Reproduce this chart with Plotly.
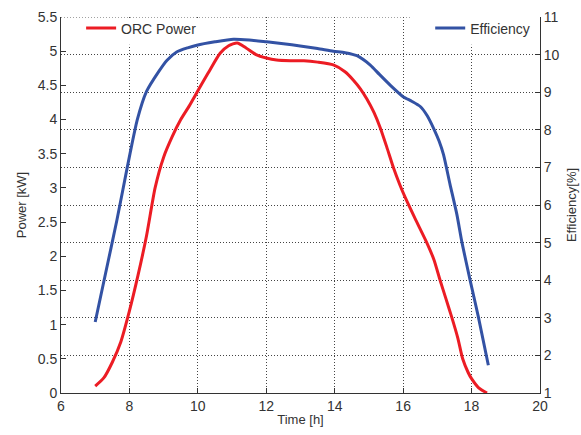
import plotly.graph_objects as go

# ORC power output over the day (left axis, kW)
time_orc = [7.0, 7.25, 7.5, 7.75, 8.0, 8.25, 8.5, 8.75, 9.0, 9.25, 9.5, 9.75,
            10.0, 10.3, 10.65, 10.9, 11.15, 11.4, 11.7, 12.0, 12.3, 12.7, 13.1,
            13.5, 13.96, 14.3, 14.54, 14.75, 14.94, 15.15, 15.33, 15.52, 15.72,
            15.9, 16.06, 16.35, 16.69, 16.9, 17.08, 17.25, 17.42, 17.6, 17.74,
            17.9, 18.0, 18.2, 18.45]
power_kw = [0.1, 0.22, 0.45, 0.75, 1.2, 1.72, 2.3, 3.0, 3.45, 3.75, 4.0, 4.2,
            4.42, 4.68, 4.97, 5.08, 5.12, 5.05, 4.95, 4.9, 4.87, 4.86, 4.86,
            4.84, 4.8, 4.7, 4.58, 4.45, 4.3, 4.1, 3.88, 3.6, 3.29,
            3.05, 2.86, 2.55, 2.2, 1.95, 1.65, 1.38, 1.11, 0.8, 0.5,
            0.3, 0.21, 0.08, 0.0]

# Cycle efficiency over the day (right axis, %)
time_eff = [7.0, 7.3, 7.63, 7.82, 8.02, 8.23, 8.5, 8.85, 9.1, 9.38, 9.7, 9.97,
            10.5, 11.04, 11.5, 12.01, 12.5, 12.99, 13.5, 13.96, 14.3, 14.65,
            15.04, 15.3, 15.62, 16.0, 16.25, 16.5, 16.7, 16.89, 17.05, 17.18,
            17.37, 17.57, 17.72, 17.96, 18.2, 18.49]
efficiency_pct = [2.89, 4.17, 5.58, 6.46, 7.38, 8.27, 9.02, 9.54, 9.85, 10.07,
                  10.18, 10.25, 10.34, 10.41, 10.39, 10.34, 10.29, 10.23, 10.16,
                  10.09, 10.05, 9.97, 9.72, 9.48, 9.19, 8.88, 8.76, 8.62, 8.38,
                  8.04, 7.7, 7.34, 6.55, 5.75, 5.0, 3.99, 3.02, 1.74]

X_RANGE = [6, 20]
POWER_RANGE = [0, 5.5]
EFF_RANGE = [1, 11]

FONT = "Liberation Sans, Arial, sans-serif"
AXIS_COLOR = "#333333"
GRID_COLOR = "#444444"
GRID_DASH = "1px,2px"
TICK_FONT = dict(family=FONT, size=14, color="#333333")
TITLE_FONT = dict(family=FONT, size=13, color="#333333")


def x_at(frac):
    return X_RANGE[0] + frac * (X_RANGE[1] - X_RANGE[0])


def y_at(frac):
    return POWER_RANGE[0] + frac * (POWER_RANGE[1] - POWER_RANGE[0])


fig = go.Figure()
fig.add_trace(go.Scatter(
    x=time_orc, y=power_kw, name="ORC Power", mode="lines",
    line=dict(color="#ec1c24", width=3, shape="spline", smoothing=0.6),
    yaxis="y", legend="legend", showlegend=True,
))
fig.add_trace(go.Scatter(
    x=time_eff, y=efficiency_pct, name="Efficiency", mode="lines",
    line=dict(color="#3352a4", width=3, shape="spline", smoothing=0.6),
    yaxis="y2", legend="legend2", showlegend=True,
))

# white legend boxes: hide the grid but stay under the curves
for fx0, fx1, fy0, fy1 in [(0.003, 0.293, 0.926, 0.995), (0.72, 0.999, 0.926, 1.0)]:
    fig.add_shape(
        type="rect", xref="x", yref="y",
        x0=x_at(fx0), x1=x_at(fx1), y0=y_at(fy0), y1=y_at(fy1),
        fillcolor="white", line=dict(width=0), layer="between",
    )

# dotted grid line along the top edge (efficiency = 11 %)
fig.add_shape(
    type="line", xref="x", yref="y",
    x0=x_at(0), x1=x_at(0.73), y0=y_at(1), y1=y_at(1),
    line=dict(color=GRID_COLOR, width=1, dash=GRID_DASH),
    layer="between",
)

fig.update_layout(
    width=581, height=435,
    margin=dict(l=61, r=41, t=15, b=42),
    paper_bgcolor="white", plot_bgcolor="white",
    font=dict(family=FONT, size=13, color="#333333"),
    showlegend=True,
    xaxis=dict(
        range=X_RANGE, dtick=2, tick0=6, automargin=False,
        ticks="inside", ticklen=5, tickcolor=AXIS_COLOR, tickfont=TICK_FONT,
        showline=True, linecolor=AXIS_COLOR, linewidth=1,
        showgrid=True, gridcolor=GRID_COLOR, griddash=GRID_DASH, gridwidth=1,
        zeroline=False,
        title=dict(text="Time [h]", font=TITLE_FONT, standoff=2),
    ),
    yaxis=dict(
        range=POWER_RANGE, dtick=0.5, tick0=0, automargin=False,
        ticks="inside", ticklen=5, tickcolor=AXIS_COLOR, tickfont=TICK_FONT,
        showline=True, linecolor=AXIS_COLOR, linewidth=1,
        showgrid=False, zeroline=False,
        title=dict(text="Power [kW]", font=TITLE_FONT, standoff=8),
    ),
    yaxis2=dict(
        range=EFF_RANGE, dtick=1, tick0=1, automargin=False,
        overlaying="y", side="right", anchor="x",
        ticks="inside", ticklen=5, tickcolor=AXIS_COLOR, tickfont=TICK_FONT,
        showline=True, linecolor=AXIS_COLOR, linewidth=1,
        showgrid=True, gridcolor=GRID_COLOR, griddash=GRID_DASH, gridwidth=1,
        zeroline=False,
        title=dict(text="Efficiency[%]", font=TITLE_FONT, standoff=8),
    ),
    legend=dict(
        x=0.042, y=1.012, xanchor="left", yanchor="top",
        bgcolor="rgba(0,0,0,0)", borderwidth=0, font=TICK_FONT,
    ),
    legend2=dict(
        x=0.99, y=1.012, xanchor="right", yanchor="top",
        bgcolor="rgba(0,0,0,0)", borderwidth=0, font=TICK_FONT,
    ),
)

fig.write_html("out.html")
